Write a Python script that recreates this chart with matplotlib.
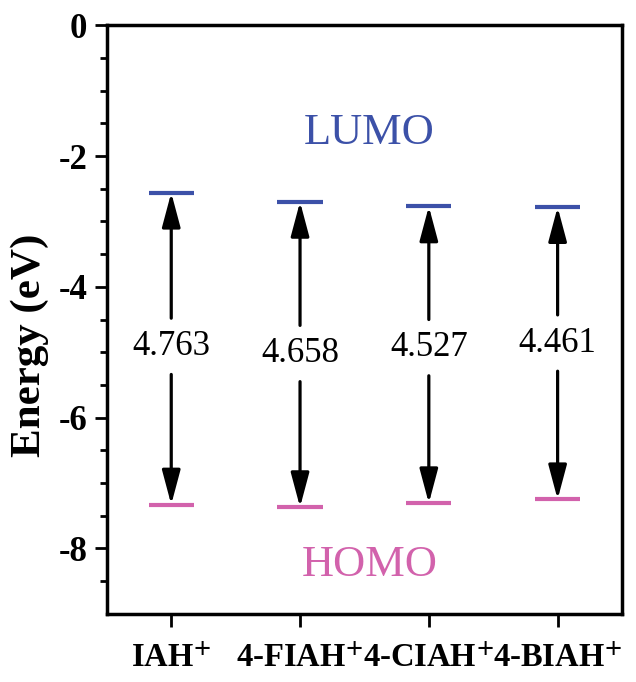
import matplotlib
matplotlib.use('Agg')
import matplotlib.pyplot as plt

plt.rcParams['font.family'] = 'Liberation Serif'
plt.rcParams['mathtext.fontset'] = 'stix'
plt.rcParams['axes.unicode_minus'] = False

# Data
molecules = ['IAH', '4-FIAH', '4-CIAH', '4-BIAH']
lumo = [-2.56, -2.70, -2.77, -2.78]
homo = [-7.33, -7.37, -7.31, -7.25]
gap_labels = ['4.763', '4.658', '4.527', '4.461']
label_y = [-4.91, -5.02, -4.93, -4.86]

lumo_color = '#3C51A8'
homo_color = '#D262AC'

fig = plt.figure(figsize=(6.36, 6.82), dpi=100)
ax = fig.add_axes([0.168, 0.100, 0.810, 0.863])

x = list(range(1, len(molecules) + 1))
half = 0.175

# energy levels
ax.hlines(lumo, [i - half for i in x], [i + half for i in x], color=lumo_color, lw=3)
ax.hlines(homo, [i - half for i in x], [i + half for i in x], color=homo_color, lw=3)

# arrows with gap value in between
arrow_kw = dict(arrowstyle='-|>,head_length=1.05,head_width=0.28', mutation_scale=20,
                lw=2.3, color='black', shrinkA=0, shrinkB=0)
off = 0.43
for xi, lu, ho, txt, ty in zip(x, lumo, homo, gap_labels, label_y):
    ax.annotate('', xy=(xi, lu), xytext=(xi, ty + off), arrowprops=arrow_kw)
    ax.annotate('', xy=(xi, ho), xytext=(xi, ty - off), arrowprops=arrow_kw)
    ax.text(xi, ty, txt, ha='center', va='center', fontsize=25)

ax.text(2.54, -1.65, 'LUMO', color=lumo_color, fontsize=32, ha='center', va='center')
ax.text(2.54, -8.26, 'HOMO', color=homo_color, fontsize=32, ha='center', va='center')

ax.set_xlim(0.5, 4.5)
ax.set_ylim(-9, 0)
ax.set_yticks([0, -2, -4, -6, -8])
ax.set_yticks([v * 0.5 for v in range(-17, 0) if v % 4 != 0], minor=True)
ax.set_xticks(x)
ax.set_xticklabels([m + r'$^{\!\bf +}$' for m in molecules])

for lab in ax.get_yticklabels() + ax.get_xticklabels():
    lab.set_fontweight('bold')
for lab in ax.get_yticklabels():
    lab.set_fontsize(25)
for lab in ax.get_xticklabels():
    lab.set_fontsize(23.5)

ax.tick_params(axis='y', which='major', length=9, width=2, pad=5)
ax.tick_params(axis='y', which='minor', length=5, width=2)
ax.tick_params(axis='x', which='major', length=9, width=2, pad=12)
for s in ax.spines.values():
    s.set_linewidth(2.5)

ax.set_ylabel('Energy (eV)', fontsize=31, fontweight='bold')
ax.yaxis.set_label_coords(-0.112, 0.456)

plt.savefig('out.png', dpi=100)
